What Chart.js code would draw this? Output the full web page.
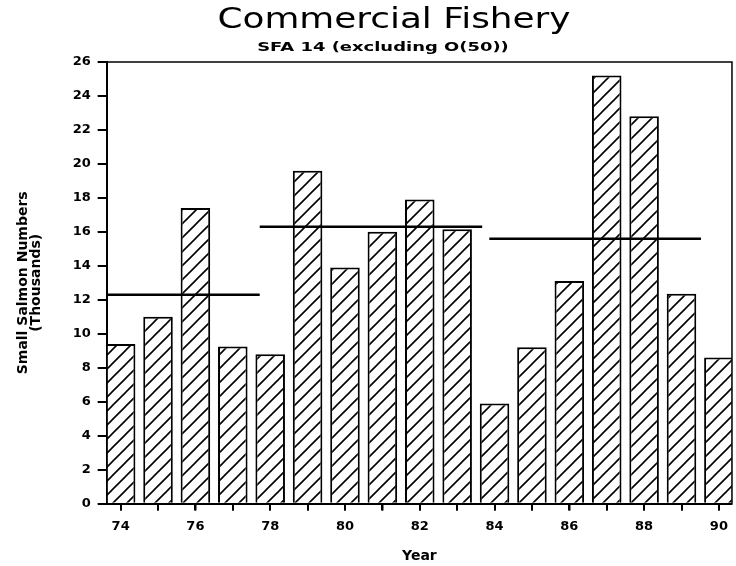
<!DOCTYPE html>
<html>
<head>
<meta charset="utf-8">
<script src="https://cdn.jsdelivr.net/npm/chart.js@4.4.0/dist/chart.umd.min.js"></script>
<style>
  body { margin: 0; background: #fff; }
  #wrap { width: 736px; height: 566px; }
</style>
</head>
<body>
<div id="wrap"><canvas id="fishery-chart"></canvas></div>
<script>
const years = [74, 75, 76, 77, 78, 79, 80, 81, 82, 83, 84, 85, 86, 87, 88, 89, 90];
const smallSalmon = [9.4, 11.0, 17.4, 9.25, 8.8, 19.6, 13.9, 16.0, 17.9, 16.15, 5.9, 9.2, 13.1, 25.2, 22.8, 12.35, 8.6];
// period averages drawn as horizontal lines
const periodMeans = [12.3, 16.3, 15.6];
const periodStart = [73.63, 77.72, 83.86];
const periodEnd = [77.72, 83.67, 89.52];
const yTicks = [0, 2, 4, 6, 8, 10, 12, 14, 16, 18, 20, 22, 24, 26];

const labelFont = { family: 'DejaVu Sans', size: 13, weight: 'bold' };

function hatch() {
    const c = document.createElement('canvas');
    c.width = 14;
    c.height = 14;
    const g = c.getContext('2d');
    g.fillStyle = '#fff';
    g.fillRect(0, 0, 14, 14);
    g.strokeStyle = '#000';
    g.lineWidth = 1.6;
    g.beginPath();
    g.moveTo(-2, 16); g.lineTo(16, -2);
    g.moveTo(-2, 2); g.lineTo(2, -2);
    g.moveTo(12, 16); g.lineTo(16, 12);
    g.stroke();
    return g.createPattern(c, 'repeat');
}

// text stretched sideways, the old plotter font is wide
function wideText(ctx, text, x, y, font, stretch) {
    ctx.save();
    ctx.font = font;
    ctx.translate(x, y);
    ctx.scale(stretch, 1);
    ctx.fillText(text, 0, 0);
    ctx.restore();
}

// frame round the plot, tick marks from the scales, and the two heading lines
const framePlugin = {
    id: 'frame',
    afterDraw(chart) {
        const { ctx, chartArea } = chart;
        const xs = chart.scales.x;
        const ys = chart.scales.y;
        ctx.save();
        ctx.strokeStyle = '#000';
        ctx.lineWidth = 1.5;
        ctx.beginPath();
        ctx.moveTo(chartArea.left, chartArea.top);
        ctx.lineTo(chartArea.right, chartArea.top);
        ctx.lineTo(chartArea.right, chartArea.bottom);
        ctx.stroke();
        ctx.lineWidth = 2;
        ctx.beginPath();
        xs.ticks.forEach(t => {
            const px = Math.round(xs.getPixelForValue(t.value));
            ctx.moveTo(px, chartArea.bottom);
            ctx.lineTo(px, chartArea.bottom + 7);
        });
        ys.ticks.forEach(t => {
            const py = Math.round(ys.getPixelForValue(t.value));
            ctx.moveTo(chartArea.left - 9, py);
            ctx.lineTo(chartArea.left, py);
        });
        ctx.stroke();
        ctx.fillStyle = '#000';
        ctx.textAlign = 'center';
        ctx.textBaseline = 'middle';
        wideText(ctx, 'Commercial Fishery', 394, 21, '28px "DejaVu Sans"', 1.28);
        wideText(ctx, 'SFA 14 (excluding O(50))', 383, 48, 'bold 13px "DejaVu Sans"', 1.38);
        ctx.restore();
    }
};

const meanSets = periodMeans.map((m, i) => ({
    type: 'line',
    data: [{ x: periodStart[i], y: m }, { x: periodEnd[i], y: m }],
    borderColor: '#000',
    borderWidth: 2.5,
    pointRadius: 0,
    order: 0
}));

const fisheryChart = document.getElementById('fishery-chart');
const fishery = new Chart(fisheryChart, {
    type: 'bar',
    data: {
        datasets: [{
            label: 'Small Salmon',
            data: years.map((yr, i) => ({ x: yr, y: smallSalmon[i] })),
            backgroundColor: hatch(),
            borderColor: '#000',
            borderWidth: 2,
            barPercentage: 0.79,
            categoryPercentage: 1.0,
            order: 1
        }, ...meanSets]
    },
    options: {
        responsive: true,
        maintainAspectRatio: false,
        animation: false,
        layout: { padding: { top: 62, left: 10, right: 3, bottom: 1 } },
        plugins: {
            legend: { display: false },
            tooltip: { enabled: false },
            title: { display: false }
        },
        scales: {
            x: {
                type: 'linear',
                min: 73.63,
                max: 90.35,
                offset: false,
                border: { color: '#000', width: 2 },
                grid: {
                    offset: false,
                    drawOnChartArea: false,
                    color: '#000',
                    lineWidth: 1.5,
                    tickLength: 7
                },
                ticks: {
                    stepSize: 1,
                    includeBounds: false,
                    autoSkip: false,
                    maxRotation: 0,
                    padding: 8,
                    color: '#000',
                    font: labelFont,
                    callback: v => (v % 2 === 0 ? String(v) : '')
                },
                title: {
                    display: true,
                    text: 'Year',
                    color: '#000',
                    font: { family: 'DejaVu Sans', size: 14, weight: 'bold' },
                    padding: { top: 6, bottom: 0 }
                }
            },
            y: {
                min: 0,
                max: 26,
                border: { color: '#000', width: 2 },
                grid: {
                    drawOnChartArea: false,
                    color: '#000',
                    lineWidth: 1.5,
                    tickLength: 9
                },
                afterBuildTicks: axis => { axis.ticks = yTicks.map(v => ({ value: v })); },
                ticks: { padding: 7, color: '#000', font: labelFont },
                title: {
                    display: true,
                    text: ['Small Salmon Numbers', '(Thousands)'],
                    color: '#000',
                    font: { family: 'DejaVu Sans', size: 14, weight: 'bold', lineHeight: 0.9 },
                    padding: { top: 7, bottom: 23.5 }
                }
            }
        }
    },
    plugins: [framePlugin]
});
</script>
</body>
</html>
